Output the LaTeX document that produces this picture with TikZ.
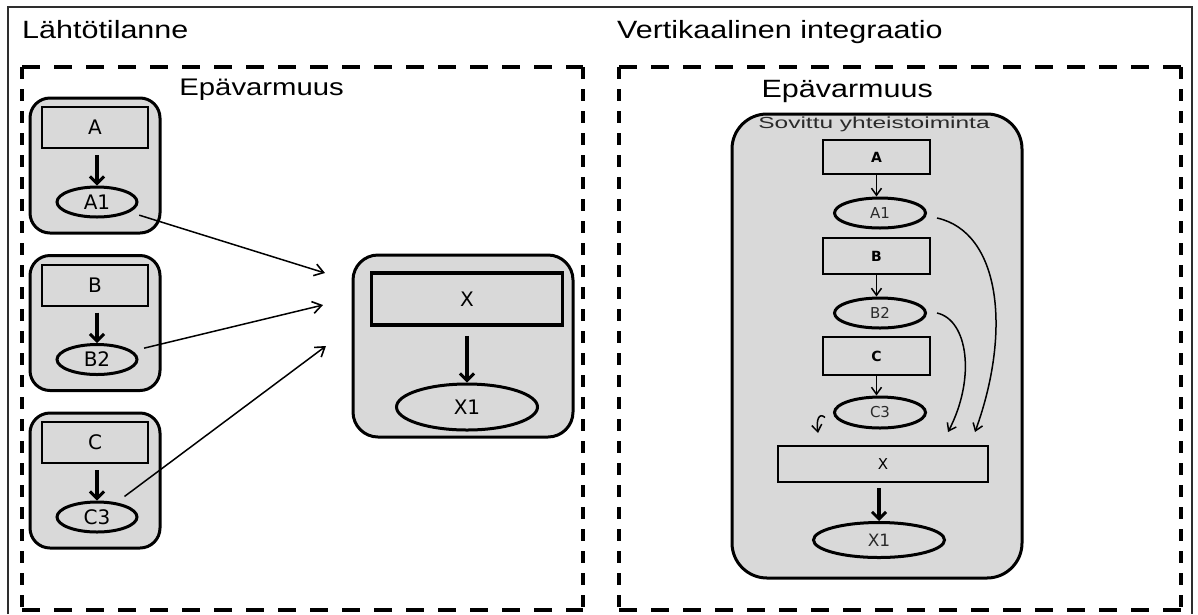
\documentclass[tikz,border=0pt]{standalone}
\usepackage{fontspec}
\usetikzlibrary{arrows.meta,shapes.geometric}
\newfontfamily\headfont[FakeStretch=1.22]{Liberation Sans}
\newfontfamily\notefont[FakeStretch=1.53]{Liberation Sans}
\newfontfamily\boxfont{DejaVu Sans}
\definecolor{panelgray}{HTML}{D9D9D9}
\definecolor{framegray}{HTML}{2E2E2E}
\definecolor{inkgray}{HTML}{2A2A2A}

\begin{document}
\begin{tikzpicture}[x=1pt,y=-1pt,
  heading/.style={font=\headfont\fontsize{25}{30}\selectfont, inner sep=0pt, text=black},
  groupbox/.style={draw=black, fill=panelgray, line width=3pt, rounded corners=20pt, inner sep=0pt},
  bigstep/.style={draw=black, fill=panelgray, line width=2pt, inner sep=0pt,
    font=\boxfont\fontsize{20}{24}\selectfont},
  bigout/.style={ellipse, draw=black, fill=panelgray, line width=3pt, inner sep=0pt,
    font=\boxfont\fontsize{20}{24}\selectfont},
  smallstep/.style={draw=black, fill=panelgray, line width=2.5pt, inner sep=0pt,
    font=\boxfont\bfseries\fontsize{14}{17}\selectfont},
  smallout/.style={ellipse, draw=black, fill=panelgray, line width=3pt, inner sep=0pt,
    text=inkgray, font=\boxfont\fontsize{15}{18}\selectfont},
  dashH/.style={line width=4.5pt, dash pattern=on 18pt off 14pt},
  dashV/.style={line width=4.5pt, dash pattern=on 12pt off 10pt},
  thickarrow/.style={line width=3.5pt, -{Straight Barb[length=7pt,width=14pt,line width=3pt]}},
  thinarrow/.style={line width=1.5pt, -{Straight Barb[length=9pt,width=12pt,line width=1.6pt]}},
  linkarrow/.style={line width=1.5pt, -{Straight Barb[length=7pt,width=10pt,line width=1.5pt]}}
]
\useasboundingbox (0,0) rectangle (1198,614);
\fill[white] (0,0) rectangle (1198,614);

% outer frame
\draw[framegray, line width=2pt] (8,614) -- (8,7) -- (1192,7) -- (1192,614);

% panel titles
\node[heading, anchor=base west] (titleL) at (22,38) {Lähtötilanne};
\node[heading, anchor=base west] (titleR) at (617,38) {Vertikaalinen integraatio};

% dashed uncertainty areas
\draw[dashH] (22,67) -- (583,67);
\draw[dashH] (22,610) -- (583,610);
\draw[dashV] (22,67) -- (22,610);
\draw[dashV] (583,67) -- (583,610);
\draw[dashH] (619,67) -- (1181,67);
\draw[dashH] (619,610) -- (1181,610);
\draw[dashV] (619,67) -- (619,610);
\draw[dashV] (1181,67) -- (1181,610);

\node[heading, font=\headfont\fontsize{24}{29}\selectfont, anchor=base east] (uncL) at (344,95) {Epävarmuus};
\node[heading, anchor=base east] (uncR) at (933,97) {Epävarmuus};

% ---------- left panel: separate actors ----------
\node[groupbox, minimum width=130pt, minimum height=135pt] (gA) at (95,165.5) {};
\node[bigstep, minimum width=106pt, minimum height=41pt] (A) at (95,127.5) {A};
\node[bigout, minimum width=80pt, minimum height=30pt] (A1) at (97,202) {A1};
\draw[thickarrow] (97,155) -- (A1.north);

\node[groupbox, minimum width=130pt, minimum height=135pt] (gB) at (95,323) {};
\node[bigstep, minimum width=106pt, minimum height=41pt] (B) at (95,285) {B};
\node[bigout, minimum width=80pt, minimum height=30pt] (B2) at (97,359.5) {B2};
\draw[thickarrow] (97,312.5) -- (B2.north);

\node[groupbox, minimum width=130pt, minimum height=135pt] (gC) at (95,480.5) {};
\node[bigstep, minimum width=106pt, minimum height=41pt] (C) at (95,442.5) {C};
\node[bigout, minimum width=80pt, minimum height=30pt] (C3) at (97,517) {C3};
\draw[thickarrow] (97,470) -- (C3.north);

\node[groupbox, rounded corners=25pt, minimum width=220pt, minimum height=182pt] (gX) at (463,346) {};
\node[bigstep, line width=3.5pt, minimum width=191pt, minimum height=52pt] (X) at (467,299) {X};
\node[bigout, minimum width=141pt, minimum height=46pt] (X1) at (467,407) {X1};
\draw[thickarrow] ([yshift=-9pt]X.south) -- (X1.north);

\coordinate (inA) at (325,273);
\coordinate (inB) at (323,305);
\coordinate (inC) at (326,346);
\draw[thinarrow, shorten <=10pt] (A1) -- (inA);
\draw[thinarrow, shorten <=12pt] (B2) -- (inB);
\draw[thinarrow, shorten <=10pt] (C3) -- (inC);

% ---------- right panel: agreed cooperation ----------
\node[groupbox, rounded corners=35pt, minimum width=290pt, minimum height=464pt] (gS) at (877,346) {};
\node[font=\notefont\fontsize{16}{19}\selectfont, text=inkgray, inner sep=0pt, anchor=base] (coop) at (874,128) {Sovittu yhteistoiminta};

\node[smallstep, minimum width=107pt, minimum height=34pt] (sA) at (876.5,157) {A};
\node[smallout, minimum width=91pt, minimum height=30pt] (sA1) at (880,213) {A1};
\node[smallstep, minimum width=107pt, minimum height=36pt] (sB) at (876.5,256) {B};
\node[smallout, minimum width=91pt, minimum height=30pt] (sB2) at (880,313) {B2};
\node[smallstep, minimum width=107pt, minimum height=38pt] (sC) at (876.5,356) {C};
\node[smallout, minimum width=91pt, minimum height=31pt] (sC3) at (880,412.5) {C3};
\node[smallstep, font=\boxfont\fontsize{15}{18}\selectfont, minimum width=210pt, minimum height=36pt] (sX) at (883,464) {X};
\node[smallout, minimum width=131pt, minimum height=35pt, font=\boxfont\fontsize{17}{20}\selectfont] (sX1) at (879,540) {X1};

\draw[linkarrow] (sA.south) -- (sA1.north -| sA.south);
\draw[linkarrow] (sB.south) -- (sB2.north -| sB.south);
\draw[linkarrow] (sC.south) -- (sC3.north -| sC.south);
\draw[thickarrow] ([yshift=-5pt]sX.south -| sX1.north) -- (sX1.north);

\coordinate (fromA) at ([xshift=10pt,yshift=-5pt]sA1.east);
\coordinate (fromB) at ([xshift=10pt]sB2.east);
\coordinate (fromC) at ([xshift=-8pt,yshift=-5pt]sC3.west);
\coordinate (toXa) at (975,432);
\coordinate (toXb) at (948,432);
\coordinate (toXc) at (818,433);
\draw[linkarrow] (fromA) .. controls (1000,232) and (1012,330) .. (toXa);
\draw[linkarrow] (fromB) .. controls (968,320) and (976,378) .. (toXb);
\draw[linkarrow] (fromC) .. controls (819,412) and (816,420) .. (toXc);
\end{tikzpicture}
\end{document}
